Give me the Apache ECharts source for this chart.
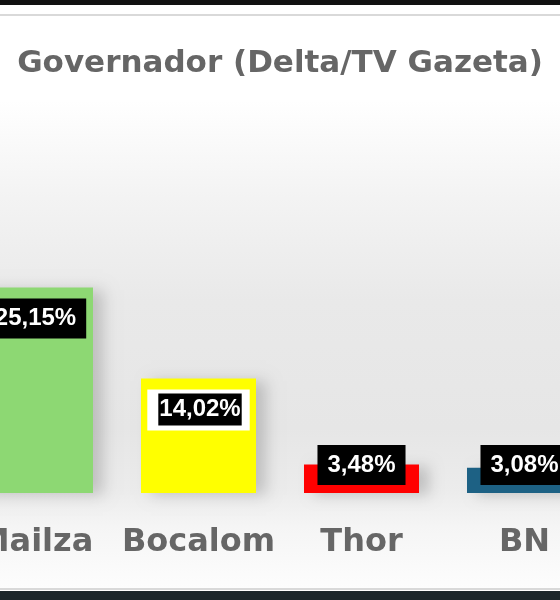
<!DOCTYPE html>
<html>
<head>
<meta charset="utf-8">
<script src="https://cdn.jsdelivr.net/npm/echarts@6/dist/echarts.min.js"></script>
<style>
html,body{margin:0;padding:0;background:#fff;}
#c{width:560px;height:600px;}
</style>
</head>
<body>
<div id="c"></div>
<script>
const titleText = 'Governador (Delta/TV Gazeta)';
const categories = ['Mailza', 'Bocalom', 'Thor', 'BN'];
const values = [25.15, 14.02, 3.48, 3.08];
const barColors = ['#8dd873', '#ffff00', '#ff0000', '#1d6184'];

const fmt = v => v.toFixed(2).replace('.', ',') + '%';

const labelBase = {
  show: true,
  color: '#fff',
  fontFamily: 'Liberation Sans, Arial, sans-serif',
  fontWeight: 'bold',
  fontSize: 24,
  lineHeight: 22,
  backgroundColor: '#000',
  padding: [9, 10]
};

const data = values.map((v, i) => {
  const item = { value: v, itemStyle: { color: barColors[i] } };
  if (v > 10) {
    item.label = Object.assign({}, labelBase, { position: 'insideTop', distance: 11 });
  } else {
    item.label = Object.assign({}, labelBase, { position: 'insideBottom', distance: 8 });
  }
  return item;
});
// Bocalom label: black tag inside a white frame
data[1].label = {
  show: true,
  position: 'insideTop',
  distance: 11,
  backgroundColor: '#fff',
  padding: [4, 8, 5, 11],
  lineHeight: 32,
  formatter: p => '{b|' + fmt(p.value) + '}',
  rich: {
    b: {
      color: '#fff',
      backgroundColor: '#000',
      fontFamily: 'Liberation Sans, Arial, sans-serif',
      fontWeight: 'bold',
      fontSize: 24,
      lineHeight: 32,
      height: 32,
      padding: [0, 1]
    }
  }
};

const chart = echarts.init(document.getElementById('c'), null, { renderer: 'canvas' });
chart.setOption({
  animation: false,
  backgroundColor: '#fff',
  graphic: [
    { type: 'rect', z: -10, silent: true, shape: { x: 0, y: 0, width: 560, height: 5 }, style: { fill: '#111' } },
    { type: 'rect', z: -10, silent: true, shape: { x: -10, y: 15, width: 580, height: 574, r: 6 },
      style: {
        fill: new echarts.graphic.LinearGradient(0, 0, 0, 1, [
          { offset: 0, color: '#ffffff' },
          { offset: 0.15, color: '#ffffff' },
          { offset: 0.32, color: '#f3f3f3' },
          { offset: 0.5, color: '#e9e9e9' },
          { offset: 0.72, color: '#e6e6e6' },
          { offset: 0.83, color: '#ececec' },
          { offset: 0.89, color: '#f5f5f5' },
          { offset: 1, color: '#fdfdfd' }
        ]),
        stroke: '#d9d9d9', lineWidth: 2
      } },
    { type: 'rect', z: -10, silent: true, shape: { x: 0, y: 591, width: 560, height: 9 }, style: { fill: '#1c262b' } }
  ],
  title: {
    text: titleText,
    left: 'center',
    top: 48,
    padding: 0,
    textStyle: {
      fontFamily: 'DejaVu Sans, sans-serif',
      fontWeight: 'bold',
      fontSize: 31,
      color: '#666'
    }
  },
  grid: { left: -46, right: -46, top: 248, bottom: 107, containLabel: false, outerBoundsMode: 'none' },
  xAxis: {
    type: 'category',
    data: categories,
    axisLine: { show: false },
    axisTick: { show: false },
    axisLabel: {
      interval: 0,
      margin: 34,
      hideOverlap: false,
      fontFamily: 'DejaVu Sans, sans-serif',
      fontWeight: 'bold',
      fontSize: 32,
      color: '#666'
    }
  },
  yAxis: {
    type: 'value', min: 0, max: 30, show: false,
    splitLine: { show: false }
  },
  series: [{
    type: 'bar',
    data: data,
    barWidth: 115,
    label: Object.assign({}, labelBase, { formatter: p => fmt(p.value) }),
    itemStyle: {
      shadowColor: 'rgba(0,0,0,0.18)',
      shadowBlur: 14,
      shadowOffsetX: 10,
      shadowOffsetY: 2
    }
  }]
});
</script>
</body>
</html>
